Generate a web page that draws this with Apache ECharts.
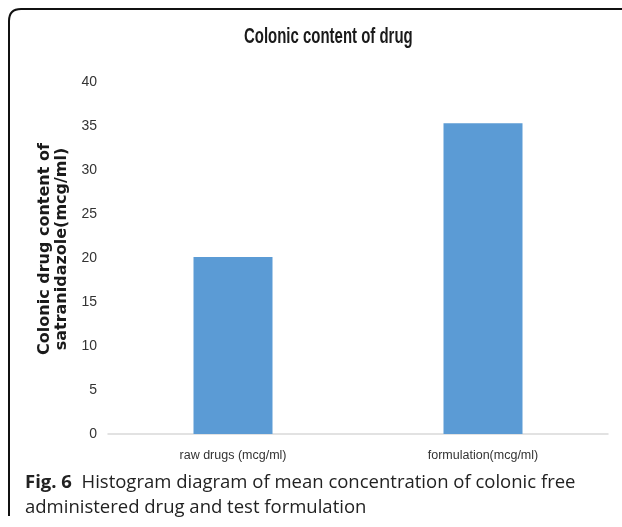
<!DOCTYPE html>
<html>
<head>
<meta charset="utf-8">
<script src="https://cdn.jsdelivr.net/npm/echarts@6/dist/echarts.min.js"></script>
<style>
  html, body { margin: 0; padding: 0; background: #fff; }
  #chart { width: 622px; height: 527px; }
</style>
</head>
<body>
<div id="chart"></div>
<script>
// Colonic drug content: raw drug vs. test formulation
const categories = ['raw drugs (mcg/ml)', 'formulation(mcg/ml)'];
const contentValues = [20.1, 35.3];
const yTicks = { min: 0, max: 40, interval: 5 };

const sans = '"Liberation Sans", Arial, sans-serif';

const chart = echarts.init(document.getElementById('chart'), null, { renderer: 'canvas' });

chart.setOption({
  backgroundColor: '#ffffff',
  animation: false,
  grid: { left: 108, right: 14, top: 82, bottom: 93 },
  xAxis: {
    type: 'category',
    data: categories,
    axisLine: { lineStyle: { color: '#d9d9d9', width: 1.5 } },
    axisTick: { show: false },
    axisLabel: { color: '#333', fontFamily: sans, fontSize: 12.5, margin: 15 }
  },
  yAxis: {
    type: 'value',
    min: yTicks.min,
    max: yTicks.max,
    interval: yTicks.interval,
    splitLine: { show: false },
    axisLine: { show: false },
    axisTick: { show: false },
    axisLabel: { color: '#333', fontFamily: sans, fontSize: 14, margin: 11 },
    name: 'Colonic drug content of\nsatranidazole(mcg/ml)',
    nameLocation: 'middle',
    nameRotate: 90,
    nameGap: 38,
    nameTextStyle: {
      fontFamily: '"DejaVu Sans", sans-serif',
      fontWeight: 'bold',
      fontSize: 16,
      lineHeight: 17,
      color: '#1a1a1a',
      padding: [0, 0, 0, 18]
    }
  },
  series: [{
    type: 'bar',
    data: contentValues,
    barWidth: 79,
    itemStyle: { color: '#5b9bd5' }
  }],
  graphic: [
    // frame: left and top edges with a rounded corner
    {
      type: 'polyline',
      shape: { points: [[9, 516], [9, 21]] },
      style: { stroke: '#111', lineWidth: 2 }
    },
    {
      type: 'bezierCurve',
      shape: { x1: 9, y1: 21, cpx1: 9, cpy1: 9, x2: 21, y2: 9 },
      style: { stroke: '#111', lineWidth: 2, fill: null }
    },
    {
      type: 'polyline',
      shape: { points: [[21, 9], [622, 9]] },
      style: { stroke: '#111', lineWidth: 2 }
    },
    // chart title, condensed
    {
      type: 'text',
      x: 244,
      y: 37,
      scaleX: 0.68,
      style: {
        text: 'Colonic content of drug',
        font: 'bold 22px "Liberation Sans", Arial, sans-serif',
        fill: '#1a1a1a',
        verticalAlign: 'middle',
        align: 'left'
      }
    },
    // figure caption
    {
      type: 'text',
      left: 25,
      top: 470,
      style: {
        text: '{b|Fig. 6}  Histogram diagram of mean concentration of colonic free\nadministered drug and test formulation',
        font: '18.5px "Open Sans", sans-serif',
        fill: '#222',
        lineHeight: 25,
        rich: {
          b: { font: 'bold 18.5px "Open Sans", sans-serif', fill: '#222', lineHeight: 25 }
        }
      }
    }
  ]
});
</script>
</body>
</html>
